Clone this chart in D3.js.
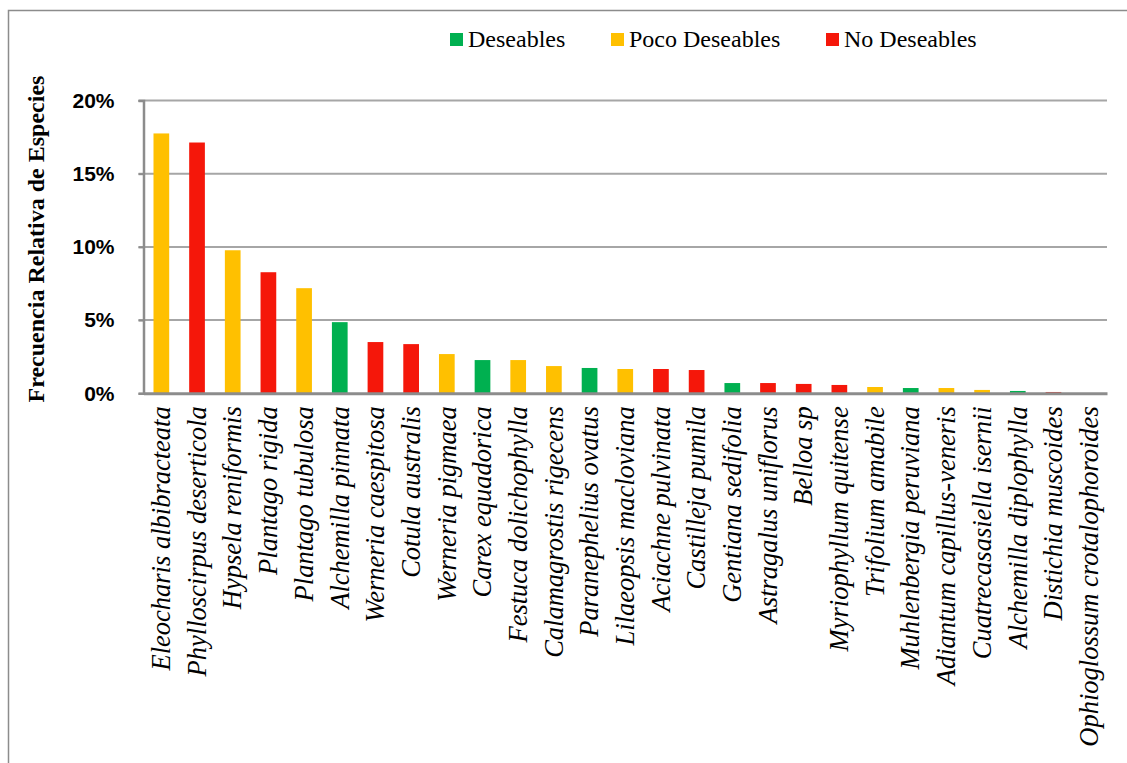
<!DOCTYPE html>
<html><head><meta charset="utf-8">
<script src="https://cdn.jsdelivr.net/npm/d3@7"></script>
<style>body{margin:0;background:#fff;}svg{display:block;}</style>
</head><body>
<svg id="chart" width="1127" height="763"></svg>
<script>
const species = ["Eleocharis albibracteata","Phylloscirpus deserticola","Hypsela reniformis","Plantago rigida","Plantago tubulosa","Alchemilla pinnata","Werneria caespitosa","Cotula australis","Werneria pigmaea","Carex equadorica","Festuca dolichophylla","Calamagrostis rigecens","Paranephelius ovatus","Lilaeopsis macloviana","Aciachne pulvinata","Castilleja pumila","Gentiana sedifolia","Astragalus uniflorus","Belloa sp","Myriophyllum quitense","Trifolium amabile","Muhlenbergia peruviana","Adiantum capillus-veneris","Cuatrecasasiella isernii","Alchemilla diplophylla","Distichia muscoides","Ophioglossum crotalophoroides"];
const frequency = [17.75,17.13,9.77,8.27,7.18,4.86,3.50,3.36,2.68,2.27,2.27,1.86,1.73,1.66,1.66,1.59,0.70,0.70,0.64,0.57,0.43,0.36,0.36,0.23,0.16,0.09,0.0];
const category = ["Poco Deseables","No Deseables","Poco Deseables","No Deseables","Poco Deseables","Deseables","No Deseables","No Deseables","Poco Deseables","Deseables","Poco Deseables","Poco Deseables","Deseables","Poco Deseables","No Deseables","No Deseables","Deseables","No Deseables","No Deseables","No Deseables","Poco Deseables","Deseables","Poco Deseables","Poco Deseables","Deseables","No Deseables","Poco Deseables"];
const legendLabels = ["Deseables","Poco Deseables","No Deseables"];
const legendColors = ["#00B050","#FFC000","#F5170A"];
const yTicks = [0,5,10,15,20];

(function(){
const serif = "'Liberation Serif', 'Times New Roman', serif";
const svg = d3.select("#chart");
const mLeft = 143.5, mRight = 1107, mTop = 100.5, mBottom = 393.3;

svg.append("rect").attr("x",8.5).attr("y",10.5).attr("width",1140).attr("height",770)
  .attr("fill","none").attr("stroke","#8c8c8c").attr("stroke-width",1.5);

const x = d3.scaleBand().domain(species).range([mLeft,mRight]).paddingInner(0.56).paddingOuter(0.28);
const y = d3.scaleLinear().domain([0,20]).range([mBottom,mTop]);
const color = d3.scaleOrdinal().domain(legendLabels).range(legendColors);

svg.append("g").selectAll("line").data(yTicks.filter(d=>d>0)).join("line")
  .attr("x1",mLeft-5).attr("x2",mRight).attr("y1",d=>y(d)).attr("y2",d=>y(d))
  .attr("stroke","#a6a6a6").attr("stroke-width",2);

const yAxis = d3.axisLeft(y).tickValues(yTicks).tickFormat(d=>d+"%").tickSize(5).tickPadding(24);
const ya = svg.append("g").attr("transform",`translate(${mLeft},0)`).call(yAxis);
ya.attr("font-family",null).attr("font-size",null);
ya.select(".domain").attr("stroke","#8c8c8c").attr("stroke-width",2.5);
ya.selectAll(".tick line").attr("stroke","#8c8c8c").attr("stroke-width",2);
ya.selectAll(".tick text").style("font-family","'Liberation Sans', Arial, sans-serif").style("font-weight","bold").style("font-size","21px").attr("fill","#000");

svg.append("g").selectAll("rect").data(species).join("rect")
  .attr("x",d=>x(d)).attr("width",x.bandwidth())
  .attr("y",(d,i)=>y(frequency[i])).attr("height",(d,i)=>mBottom-y(frequency[i]))
  .attr("fill",(d,i)=>color(category[i]));

const xAxis = d3.axisBottom(x).tickSize(0).tickPadding(0);
const xa = svg.append("g").attr("transform",`translate(0,${mBottom})`).call(xAxis);
xa.attr("font-family",null).attr("font-size",null);
xa.select(".domain").attr("stroke","#8c8c8c").attr("stroke-width",3);
xa.selectAll(".tick text")
  .style("font-family",serif).style("font-style","italic")
  .style("font-size","26.5px").attr("fill","#000")
  .attr("text-anchor","end").attr("dy","0.33em")
  .attr("transform","translate(0,13) rotate(-90)").attr("x",0).attr("y",0);

svg.append("text").attr("transform","translate(44,239) rotate(-90)")
  .attr("text-anchor","middle").style("font-family",serif)
  .style("font-weight","bold").style("font-size","24px").text("Frecuencia Relativa de Especies");

const legendX = [450,611,826];
const lg = svg.append("g");
legendLabels.forEach((l,i)=>{
  lg.append("rect").attr("x",legendX[i]).attr("y",33).attr("width",13).attr("height",13).attr("fill",legendColors[i]);
  lg.append("text").attr("x",legendX[i]+18).attr("y",47).style("font-family",serif)
    .style("font-size","24px").text(l);
});
})();
</script>
</body></html>
